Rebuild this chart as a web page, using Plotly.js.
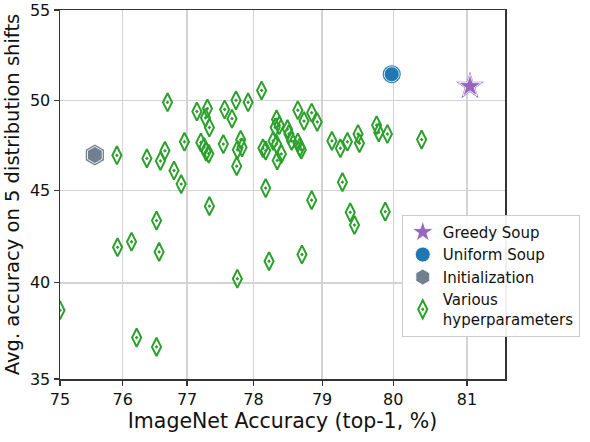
<!DOCTYPE html>
<html><head><meta charset="utf-8">
<script src="https://cdn.plot.ly/plotly-3.0.1.min.js"></script>
<style>html,body{margin:0;padding:0;background:#fff}#chart{width:590px;height:442px}</style>
</head><body><div id="chart"></div>
<script>
// Values in percent (axes are logit-scaled, as in the reference)
const hpX = [75.00,75.91,76.38,76.59,76.66,76.70,76.80,76.91,76.96,77.15,77.21,77.28,77.31,77.34,77.26,77.29,77.33,77.57,77.68,77.74,77.92,77.55,77.81,77.83,77.76,77.75,78.12,77.34,78.18,78.34,78.38,78.32,78.29,78.34,78.14,78.18,78.41,78.35,78.50,78.52,78.56,78.65,78.68,78.70,78.65,78.74,78.85,78.93,79.14,79.26,79.36,79.51,79.53,79.77,79.80,79.92,80.39,79.29,78.85,75.92,76.14,76.53,76.57,76.22,76.53,77.76,78.23,78.71,79.40,79.46,79.89];
const hpY = [38.55,46.95,46.78,46.64,47.20,49.89,46.11,45.36,47.70,49.38,47.66,49.03,49.54,48.49,47.41,47.15,47.04,49.49,48.98,50.00,49.89,47.57,47.81,47.39,47.26,46.35,50.55,44.15,45.14,48.94,48.62,48.49,47.75,47.57,47.34,47.21,47.03,46.67,48.40,48.13,47.75,47.66,47.39,47.26,49.45,48.85,49.31,48.80,47.75,47.34,47.70,48.13,47.62,48.62,48.22,48.13,47.82,45.47,44.48,41.91,42.21,43.36,41.66,37.12,36.64,40.22,41.16,41.52,43.81,43.12,43.85];
const greedyX = [81.04], greedyY = [50.78];
const uniformX = [79.98], uniformY = [51.45];
const initX = [75.56], initY = [46.97];
const xTicks = [75,76,77,78,79,80,81];
const yTicks = [35,40,45,50,55];
const xLim = [75, 81.5], yLim = [35, 55];

const lg = v => Math.log((v/100)/(1-v/100));
const L = a => a.map(lg);
const EPS = 1e-6;

const FONT = '"DejaVu Sans", sans-serif';
const traces = [
  {x:L(hpX), y:L(hpY), mode:'markers', type:'scatter', name:'Various<br>hyperparameters',
   marker:{symbol:'diamond-tall-open-dot', size:13, color:'#2ca02c', line:{width:2, color:'#2ca02c'}}},
  {x:L(initX), y:L(initY), mode:'markers', type:'scatter', showlegend:false, hoverinfo:'skip',
   marker:{symbol:'hexagon', size:21, color:'#708090', line:{width:0}}},
  {x:L(initX), y:L(initY), mode:'markers', type:'scatter', name:'Initialization',
   marker:{symbol:'hexagon', size:17, color:'#708090', line:{width:1, color:'rgba(255,255,255,0.85)'}}},
  {x:L(uniformX), y:L(uniformY), mode:'markers', type:'scatter', showlegend:false, hoverinfo:'skip',
   marker:{symbol:'circle', size:18, color:'#1f77b4', line:{width:0}}},
  {x:L(uniformX), y:L(uniformY), mode:'markers', type:'scatter', name:'Uniform Soup',
   marker:{symbol:'circle', size:15, color:'#1f77b4', line:{width:1, color:'rgba(255,255,255,0.85)'}}},
  {x:L(greedyX), y:L(greedyY), mode:'markers', type:'scatter', showlegend:false, hoverinfo:'skip',
   marker:{symbol:'star', size:21, color:'#9467bd', line:{width:0}}},
  {x:L(greedyX), y:L(greedyY), mode:'markers', type:'scatter', name:'Greedy Soup',
   marker:{symbol:'star', size:17, color:'#9467bd', line:{width:1, color:'rgba(255,255,255,0.85)'}}}
];

const axCommon = {showgrid:true, gridcolor:'#d3d3d3', gridwidth:1.3, zeroline:false,
  showline:true, linecolor:'#333', linewidth:1.5, mirror:true,
  ticks:'outside', ticklen:5, tickwidth:1.2, tickcolor:'#333', ticklabeloverflow:'allow',
  tickfont:{family:FONT, size:16, color:'#111'}};

const layout = {
  width:590, height:442,
  margin:{l:60, r:78, t:10, b:63},
  paper_bgcolor:'#fff', plot_bgcolor:'#fff',
  font:{family:FONT, color:'#111'},
  showlegend:true,
  xaxis:Object.assign({}, axCommon, {
    range:[lg(xLim[0]) - EPS, lg(xLim[1])], tickmode:'array',
    tickvals:L(xTicks), ticktext:xTicks.map(String),
    title:{text:'ImageNet Accuracy (top-1, %)', font:{family:FONT, size:20.5, color:'#111'}, standoff:6}
  }),
  yaxis:Object.assign({}, axCommon, {
    range:[lg(yLim[0]) - EPS, lg(yLim[1]) + EPS], tickmode:'array',
    tickvals:L(yTicks), ticktext:yTicks.map(String),
    title:{text:'Avg. accuracy on 5 distribution shifts', font:{family:FONT, size:19.5, color:'#111'}, standoff:5}
  }),
  legend:{x:0.768, y:0.445, xanchor:'left', yanchor:'top', bgcolor:'rgba(255,255,255,0.92)',
    bordercolor:'#ccc', borderwidth:1, font:{family:FONT, size:15, color:'#111'},
    traceorder:'reversed', tracegroupgap:0, itemsizing:'trace', itemwidth:30}
};

Plotly.newPlot('chart', traces, layout, {displayModeBar:false, staticPlot:true});
</script>
</body></html>
